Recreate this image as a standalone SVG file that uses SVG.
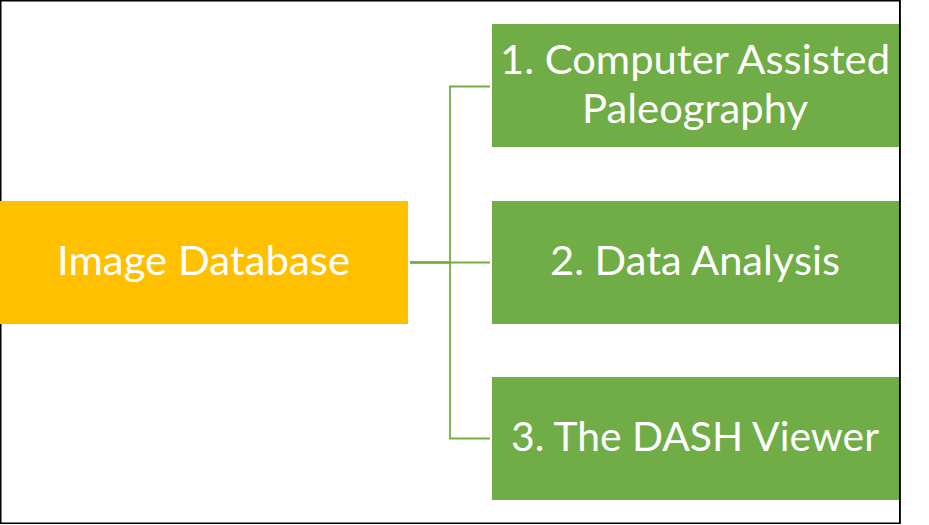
<svg xmlns="http://www.w3.org/2000/svg" width="929" height="525" viewBox="0 0 929 525">
  <style>
    .frame { fill: #FFFFFF; stroke: #000000; stroke-width: 1.5; }
    .root { fill: #FFC000; }
    .child { fill: #70AD47; }
    .conn { fill: none; stroke: #70AD47; stroke-width: 1.8; }
    .lbl { fill: #FFFFFF; font-family: Lato, "Open Sans", "Liberation Sans", sans-serif; font-size: 40.5px; text-anchor: middle; }
  </style>
  <rect width="929" height="525" fill="#FFFFFF"/>
  <rect class="frame" x="0.75" y="0.75" width="899.25" height="522.5"/>
  <g id="connectors">
    <path class="conn" d="M410,262.5 H450 V86.5 H490"/>
    <path class="conn" d="M410,262.5 H490"/>
    <path class="conn" d="M410,262.5 H450 V438.5 H490"/>
  </g>
  <g id="node-image-database">
    <rect class="root" x="0" y="201" width="408" height="123"/>
    <text class="lbl" x="203.5" y="275" textLength="293" lengthAdjust="spacingAndGlyphs">Image Database</text>
  </g>
  <g id="node-computer-assisted-paleography">
    <rect class="child" x="492" y="24" width="407.5" height="123"/>
    <text class="lbl" x="695" y="73.5" textLength="390" lengthAdjust="spacingAndGlyphs">1. Computer Assisted</text>
    <text class="lbl" x="695" y="122.5" textLength="226" lengthAdjust="spacingAndGlyphs">Paleography</text>
  </g>
  <g id="node-data-analysis">
    <rect class="child" x="492" y="201" width="407.5" height="123"/>
    <text class="lbl" x="695" y="275" textLength="290" lengthAdjust="spacingAndGlyphs">2. Data Analysis</text>
  </g>
  <g id="node-dash-viewer">
    <rect class="child" x="492" y="377" width="407.5" height="123"/>
    <text class="lbl" x="695" y="451" textLength="368" lengthAdjust="spacingAndGlyphs">3. The DASH Viewer</text>
  </g>
  <line x1="899.75" y1="0" x2="899.75" y2="524" stroke="#000000" stroke-width="1.5"/>
</svg>
